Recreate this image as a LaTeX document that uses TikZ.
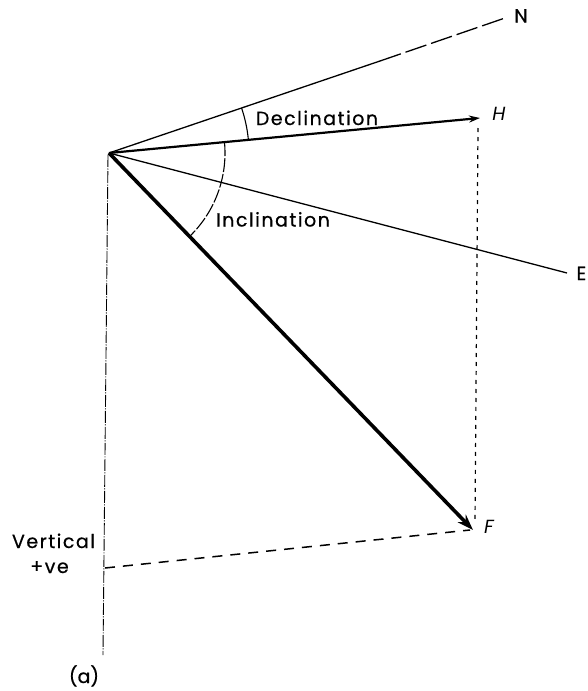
\documentclass[tikz,border=0pt]{standalone}
\usepackage{fontspec}
\setmainfont{Poppins}
\usetikzlibrary{arrows.meta}
\begin{document}
\begin{tikzpicture}[x=1pt,y=-1pt,
  lbl/.style={font=\fontsize{19}{19}\selectfont\addfontfeature{FakeBold=0.6}, inner sep=0pt, anchor=base},
  wide/.style={font=\fontsize{19}{19}\selectfont\addfontfeature{LetterSpace=8,FakeBold=0.6}, inner sep=0pt, anchor=base},
  ital/.style={font=\fontsize{19}{19}\selectfont\itshape, inner sep=0pt, anchor=base},
  thinline/.style={line width=1.3pt},
  vec/.style={line width=2.2pt, -{Stealth[length=11pt,width=7pt]}},
  bigvec/.style={line width=3.6pt, -{Stealth[length=16pt,width=11pt]}},
  axisline/.style={line width=0.9pt, dash pattern=on 12pt off 1.5pt on 1pt off 1.5pt},
  proj/.style={line width=1.2pt, dash pattern=on 4pt off 5pt},
  horiz/.style={line width=1.5pt, dash pattern=on 10pt off 8pt},
  arcline/.style={line width=1.1pt}]
\useasboundingbox (0,0) rectangle (587,691);
\coordinate (O) at (109,153);
\coordinate (Nmid) at (380,61);
\coordinate (Nend) at (505,18);
\coordinate (Hend) at (480,118);
\coordinate (Eend) at (567,273);
\coordinate (Fend) at (473,530);
\coordinate (Vtop) at (108,155);
\coordinate (Vbot) at (103,655);
\coordinate (Vmid) at (105,568);
\coordinate (Htop) at (478,128);
\coordinate (Fside) at (475,522);
\coordinate (Fleft) at (470,530);
% lines
\draw[thinline] (O) -- (Nmid);
\draw[thinline, dash pattern=on 22pt off 5pt] (Nmid) -- (Nend);
\draw[thinline] (O) -- (Eend);
\draw[vec] (O) -- (Hend);
\draw[bigvec] (O) -- (Fend);
\draw[axisline] (Vtop) -- (Vbot);
\draw[proj] (Htop) -- (Fside);
\draw[horiz] (Vmid) -- (Fleft);
% arcs
\draw[arcline] ([shift={(18.8:140pt)}]O) arc[start angle=18.8, end angle=5.4, radius=140pt];
\draw[arcline, dash pattern=on 14pt off 2pt] ([shift={(5.4:116pt)}]O) arc[start angle=5.4, end angle=-46, radius=116pt];
% labels
\node[lbl] (N) at (521,22.5) {N};
\node[ital] (H) at (499,120) {H};
\node[lbl, anchor=base east] (E) at (586.5,280) {E};
\node[ital] (F) at (489,533) {F};
\node[wide] (decl) at (317,125) {Declination};
\node[wide] (incl) at (273,226.5) {Inclination};
\node[wide] (vert) at (53.5,548) {Vertical};
\node[wide] (pve) at (49.5,573) {+ve};
\node[lbl] (a) at (84,683) {(a)};
\end{tikzpicture}
\end{document}
